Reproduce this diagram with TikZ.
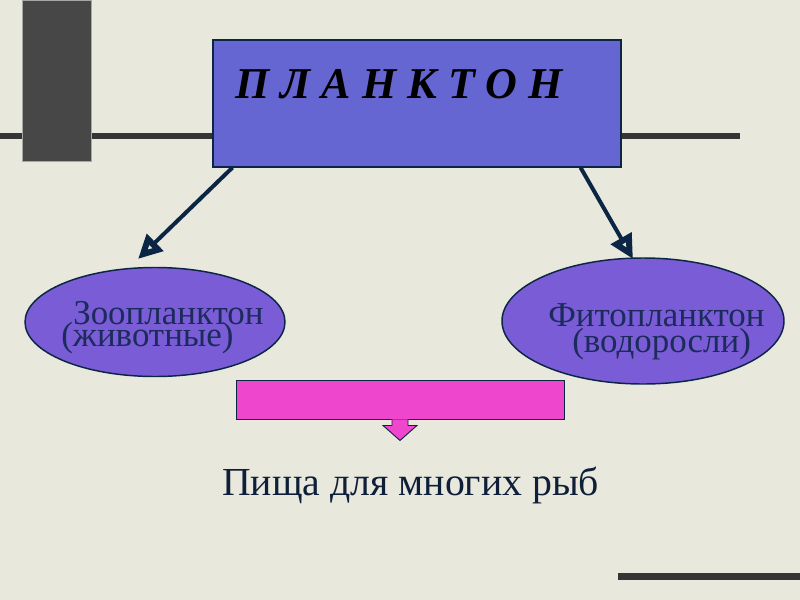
\documentclass[tikz,border=0pt]{standalone}
\usepackage{fontspec}
\setmainfont{Liberation Serif}
\usetikzlibrary{arrows.meta,positioning,shapes.geometric,calc}
\definecolor{paper}{HTML}{E8E8DC}
\definecolor{bar}{HTML}{474747}
\definecolor{rule}{HTML}{353535}
\definecolor{navy}{HTML}{0B2545}
\definecolor{boxblue}{HTML}{6666D2}
\definecolor{oval}{HTML}{7A5CD6}
\definecolor{pinkbar}{HTML}{EE46CC}
\definecolor{inktext}{HTML}{1B2B5B}
\definecolor{foodtext}{HTML}{0F1F3A}
\tikzset{
  titlebox/.style={draw=navy,line width=.9pt,fill=boxblue,minimum width=306pt,minimum height=95.25pt,inner sep=0pt},
  titletext/.style={inner sep=0pt,font=\fontsize{33}{36}\selectfont\bfseries\itshape,text=black},
  ovalbox/.style={ellipse,draw=navy,line width=1.1pt,fill=oval,inner sep=0pt},
  ovaltext/.style={inner sep=0pt,font=\fontsize{26.2}{28}\selectfont,text=inktext},
  feedbar/.style={draw=navy,line width=.7pt,fill=pinkbar,minimum width=246pt,minimum height=29.25pt,inner sep=0pt},
  foodlabel/.style={inner sep=0pt,font=\fontsize{29.8}{32}\selectfont,text=foodtext},
  ar/.style={-{Triangle[open,length=18pt,width=17pt,line width=4.6pt]},draw=navy,line width=3pt},
}
\begin{document}
\begin{tikzpicture}[x=.75pt,y=-.75pt]
\useasboundingbox (0,0) rectangle (800,600);
\fill[paper] (0,0) rectangle (800,600);
\draw[rule,line width=4.5pt] (0,136) -- (740,136);
\filldraw[fill=bar,draw=gray!70,line width=.5pt] (22,0) rectangle (91,161);
\fill[rule] (618,573) rectangle (800,580);
\node[titlebox] (plank) at (417,103.5) {};
\node[titletext,anchor=base west] (planktitle) at (235,98) {П Л А Н К Т О Н};
\node[ovalbox,minimum width=195pt,minimum height=81.75pt] (zoo) at (155,322) {};
\node[ovalbox,minimum width=211.5pt,minimum height=94.5pt] (phyto) at (643,321) {};
\coordinate (zootip) at (138,259);
\coordinate (phytotip) at (633,259);
\draw[ar] ($(plank.south west)+(20,0)$) -- (zootip);
\draw[ar] ($(plank.south east)+(-41,0)$) -- (phytotip);
\node[ovaltext,anchor=base west] (zooname) at (73,324) {Зоопланктон};
\node[ovaltext,anchor=base west] (zoonote) at (61,346) {(животные)};
\node[ovaltext,anchor=base west] (phytoname) at (548,326) {Фитопланктон};
\node[ovaltext,anchor=base west] (phytonote) at (572,352) {(водоросли)};
\node[feedbar] (feed) at (400,399.5) {};
\filldraw[fill=pinkbar,draw=navy,line width=.7pt] ($(feed.south)+(-8,0)$) -- ++(0,6) -- ++(-9,0) -- ++(17,15) -- ++(17,-15) -- ++(-9,0) -- ++(0,-6);
\node[foodlabel,anchor=base west] (food) at (222,495) {Пища для многих рыб};
\end{tikzpicture}
\end{document}
